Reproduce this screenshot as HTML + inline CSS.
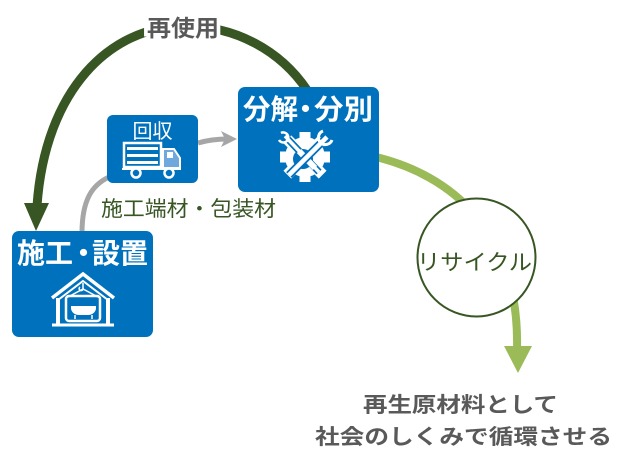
<!DOCTYPE html>
<html><head><meta charset="utf-8">
<style>
html,body{margin:0;padding:0;background:#fff;}
svg{display:block;}
text{font-family:"Liberation Sans","Noto Sans CJK JP",sans-serif;}
</style></head>
<body>
<svg width="635" height="475" viewBox="0 0 635 475" xmlns="http://www.w3.org/2000/svg">
  <!-- light green recycle arc -->
  <path d="M376,157 C450,175 520,230 517,350" fill="none" stroke="#9bbb59" stroke-width="8"/>
  <polygon points="504,346 532,346 518,373" fill="#9bbb59"/>

  <!-- dark green reuse arc -->
  <path d="M307,90 C280,50 235,26 185,26 C110,26 45,90 37,206" fill="none" stroke="#375623" stroke-width="9"/>
  <polygon points="24,203 49,203 36,231" fill="#375623"/>

  <!-- gray connectors -->
  <path d="M82,233 C82,200 92,185 109,177" fill="none" stroke="#a6a6a6" stroke-width="5"/>
  <path d="M198,143 C208,140 218,139 228,139" fill="none" stroke="#a6a6a6" stroke-width="5"/>
  <polygon points="221,131 237,139 221,147 225,139" fill="#a6a6a6"/>

  <!-- 再使用 label with halo -->
  <text x="183" y="36" text-anchor="middle" font-size="23" font-weight="bold" fill="#595959" stroke="#fff" stroke-width="7" paint-order="stroke" textLength="72" lengthAdjust="spacingAndGlyphs">再使用</text>

  <!-- 分解・分別 box -->
  <rect x="238" y="87" width="141" height="105" rx="7" fill="#0071bc"/>
  <g font-size="28" font-weight="bold" fill="#fff">
    <text x="243" y="119" textLength="55" lengthAdjust="spacingAndGlyphs">分解</text>
    <text x="305.5" y="119" text-anchor="middle">・</text>
    <text x="314" y="119" textLength="59" lengthAdjust="spacingAndGlyphs">分別</text>
  </g>
  <!-- gear icon -->
  <g transform="translate(305,157)">
    <g fill="#fff">
      <circle r="20"/>
      <rect x="-5.5" y="-25" width="11" height="50"/>
      <rect x="-5.5" y="-25" width="11" height="50" transform="rotate(45)"/>
      <rect x="-5.5" y="-25" width="11" height="50" transform="rotate(90)"/>
      <rect x="-5.5" y="-25" width="11" height="50" transform="rotate(135)"/>
    </g>
    <circle r="10" fill="#0071bc" cx="-2" cy="2"/>
    <!-- screwdriver -->
    <line x1="-20" y1="-21" x2="14" y2="15" stroke="#0071bc" stroke-width="7"/>
    <line x1="-20" y1="-21" x2="14" y2="15" stroke="#fff" stroke-width="3.5"/>
    <line x1="-6" y1="-6" x2="10" y2="11" stroke="#fff" stroke-width="6"/>
    <!-- wrench -->
    <line x1="22" y1="-20" x2="-16" y2="18" stroke="#0071bc" stroke-width="8"/>
    <line x1="22" y1="-20" x2="-16" y2="18" stroke="#fff" stroke-width="4.5"/>
    <path d="M18,-26 a7,7 0 1 0 9,9" fill="none" stroke="#fff" stroke-width="3"/>
    <path d="M-24,-24 a5,5 0 1 1 -2,7" fill="none" stroke="#fff" stroke-width="2.5"/>
  </g>

  <!-- 回収 box -->
  <rect x="107" y="115" width="91" height="68" rx="6" fill="#0071bc"/>
  <text x="152.5" y="138" text-anchor="middle" font-size="20" fill="#fff">回収</text>
  <!-- truck -->
  <g>
    <rect x="124" y="143" width="37" height="24" fill="none" stroke="#fff" stroke-width="2.5"/>
    <rect x="127" y="147" width="31" height="3" fill="#fff"/>
    <rect x="127" y="154" width="31" height="3" fill="#fff"/>
    <rect x="127" y="161" width="31" height="3" fill="#fff"/>
    <path d="M163,149 L174,149 L180,158 L180,168 L163,168 Z" fill="#6fa8dc" stroke="#fff" stroke-width="2"/>
    <rect x="167" y="152" width="6" height="6" fill="#fff"/>
    <line x1="122" y1="169" x2="181" y2="169" stroke="#fff" stroke-width="2"/>
    <circle cx="136" cy="173" r="4.5" fill="#0071bc" stroke="#fff" stroke-width="2.5"/>
    <circle cx="169" cy="173" r="4.5" fill="#0071bc" stroke="#fff" stroke-width="2.5"/>
  </g>

  <!-- 施工端材・包装材 -->
  <text x="101" y="216" font-size="21" fill="#375623" textLength="175" lengthAdjust="spacingAndGlyphs">施工端材・包装材</text>

  <!-- 施工・設置 box -->
  <rect x="12" y="231" width="141" height="106" rx="7" fill="#0071bc"/>
  <g font-size="28" font-weight="bold" fill="#fff">
    <text x="17" y="263" textLength="56" lengthAdjust="spacingAndGlyphs">施工</text>
    <text x="83.5" y="263" text-anchor="middle">・</text>
    <text x="92" y="263" textLength="56" lengthAdjust="spacingAndGlyphs">設置</text>
  </g>
  <!-- house icon -->
  <g fill="none" stroke="#fff">
    <polyline points="52,298 83,274 114,298" stroke-width="3.5"/>
    <polyline points="58,300 83,281 108,300" stroke-width="2"/>
    <line x1="58" y1="298" x2="58" y2="325" stroke-width="4"/>
    <line x1="108" y1="298" x2="108" y2="325" stroke-width="4"/>
    <line x1="52" y1="325" x2="114" y2="325" stroke-width="3"/>
    <rect x="66" y="296" width="34" height="25" rx="3" stroke-width="2.5"/>
    <polyline points="68,297 83,289 98,297" stroke-width="1.5"/>
    <path d="M83,283 v5 a2,2 0 1 1 -3,-1" stroke-width="1.5"/>
  </g>
  <path d="M71,306 h25 v2 a8,7 0 0 1 -8,7 h-9 a8,7 0 0 1 -8,-7 z" fill="#fff"/>
  <line x1="75" y1="315" x2="75" y2="319" stroke="#fff" stroke-width="1.5"/>
  <line x1="92" y1="315" x2="92" y2="319" stroke="#fff" stroke-width="1.5"/>

  <!-- recycle circle -->
  <circle cx="476.5" cy="257.5" r="59" fill="#fff" stroke="#375623" stroke-width="2"/>
  <text x="417" y="270" font-size="22" fill="#375623" textLength="115" lengthAdjust="spacingAndGlyphs">リサイクル</text>

  <!-- bottom text -->
  <text x="363" y="412" font-size="21" font-weight="bold" fill="#595959" textLength="195" lengthAdjust="spacingAndGlyphs">再生原材料として</text>
  <text x="315" y="444" font-size="21" font-weight="bold" fill="#595959" textLength="297" lengthAdjust="spacingAndGlyphs">社会のしくみで循環させる</text>
</svg>
</body></html>
